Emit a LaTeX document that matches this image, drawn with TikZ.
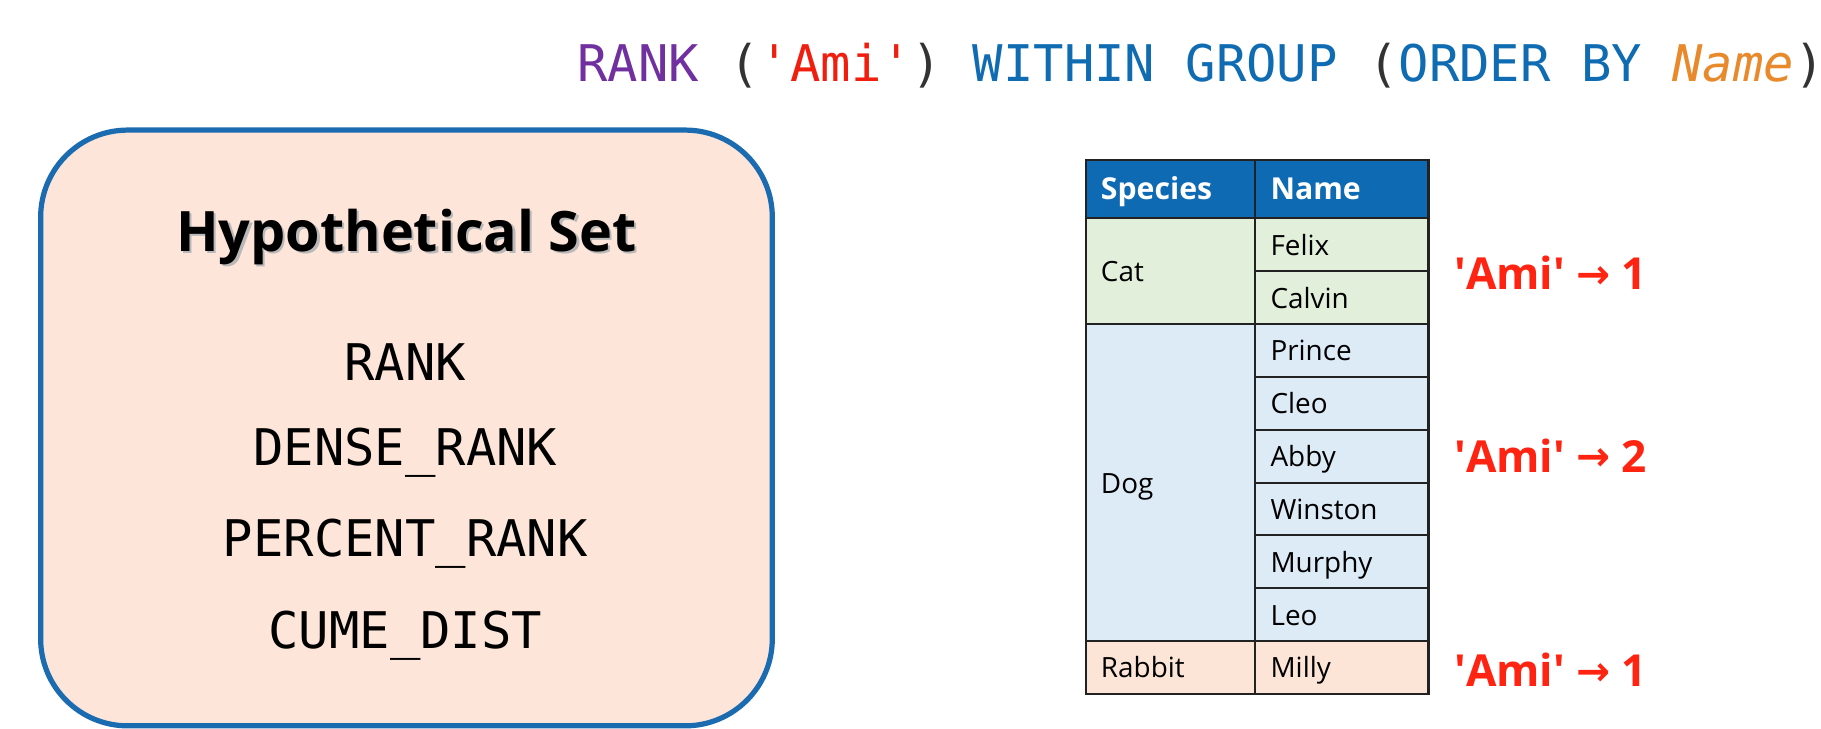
\documentclass[tikz,border=0pt]{standalone}
\usepackage{fontspec}
\setmainfont{Open Sans}
\newfontfamily\codefont{DejaVu Sans Mono}
\newfontfamily\arrowfont{DejaVu Sans}
\definecolor{kwpurple}{HTML}{7030A0}
\definecolor{kwred}{HTML}{F01E0E}
\definecolor{kwblue}{HTML}{0F6CB2}
\definecolor{kworange}{HTML}{E8892C}
\definecolor{parengray}{HTML}{333333}
\definecolor{boxfill}{HTML}{FDE5DA}
\definecolor{boxline}{HTML}{1B6BB0}
\definecolor{hdrfill}{HTML}{0F6AB4}
\definecolor{catfill}{HTML}{E2EFDA}
\definecolor{dogfill}{HTML}{DDEBF7}
\definecolor{rabfill}{HTML}{FCE4D6}
\definecolor{gridline}{HTML}{222222}
\definecolor{labred}{HTML}{FF2412}
\newcommand{\sq}{\textquotesingle}
\newcommand{\resarrow}{{\arrowfont\bfseries\fontsize{35}{38}\selectfont\raisebox{1pt}{→}}}
\begin{document}
\begin{tikzpicture}[x=1pt,y=-1pt,
  codetext/.style={inner sep=0pt, font=\codefont\fontsize{43.5}{50}\selectfont},
  cell/.style={draw=gridline, line width=1.8pt, rectangle, inner xsep=13pt, inner ysep=0pt,
    text width=#1-26pt, minimum width=#1, align=left, text height=20pt, text depth=2pt,
    font=\fontsize{24}{28}\selectfont},
  hdrcell/.style={cell=#1, fill=hdrfill, text=white, minimum height=50pt, text height=21pt, text depth=3pt,
    font=\bfseries\fontsize{26}{30}\selectfont},
  result/.style={inner sep=0pt, anchor=west, text=labred, font=\bfseries\fontsize{38}{46}\selectfont}
]
\useasboundingbox (0,0) rectangle (1568,627);

% title
\node[codetext, anchor=base west] (title) at (497,70)
 {\textcolor{kwpurple}{RANK} \textcolor{parengray}{(}\textcolor{kwred}{'Ami'}\textcolor{parengray}{)} \textcolor{kwblue}{WITHIN GROUP} \textcolor{parengray}{(}\textcolor{kwblue}{ORDER BY} \textcolor{kworange}{\itshape Name}\textcolor{parengray}{)}};

% left box
\node[draw=boxline, fill=boxfill, line width=4.5pt, rounded corners=75pt,
      minimum width=630pt, minimum height=513pt] (box) at (350,368.5) {};
\node[inner sep=0pt, text=black!28, font=\bfseries\fontsize{48}{56}\selectfont] (hsshadow) at (352,206) {Hypothetical Set};
\node[inner sep=0pt, font=\bfseries\fontsize{48}{56}\selectfont] (hs) at (350,204) {Hypothetical Set};
\node[codetext] (f1) at (349,312) {RANK};
\node[codetext] (f2) at (349,390) {DENSE\_RANK};
\node[codetext] (f3) at (349,468) {PERCENT\_RANK};
\node[codetext] (f4) at (349,547) {CUME\_DIST};

% table
\node[hdrcell=146pt] (hsp) at (1008,163) {Species};
\node[hdrcell=149pt] (hnm) at (1155.5,163) {Name};
\node[cell=146pt, fill=catfill, minimum height=91pt] (cat) at (1008,233.5) {Cat};
\node[cell=146pt, fill=dogfill, minimum height=273pt] (dog) at (1008,415.5) {Dog};
\node[cell=146pt, fill=rabfill, minimum height=45.5pt] (rab) at (1008,574.75) {Rabbit};
\foreach \nm/\yy/\cl [count=\i] in {Felix/210.75/catfill, Calvin/256.25/catfill,
   Prince/301.75/dogfill, Cleo/347.25/dogfill, Abby/392.75/dogfill, Winston/438.25/dogfill,
   Murphy/483.75/dogfill, Leo/529.25/dogfill, Milly/574.75/rabfill}
  \node[cell=149pt, fill=\cl, minimum height=45.5pt] (n\i) at (1155.5,\yy) {\nm};

% results
\node[result] (r1) at (1252,235) {\sq Ami\sq\ \resarrow\ 1};
\node[result] (r2) at (1252,392) {\sq Ami\sq\ \resarrow\ 2};
\node[result] (r3) at (1252,577) {\sq Ami\sq\ \resarrow\ 1};
\end{tikzpicture}
\end{document}
